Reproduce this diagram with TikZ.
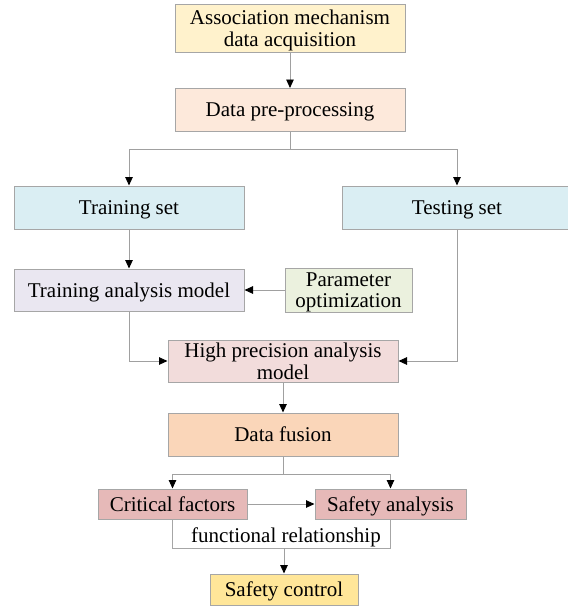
\documentclass[tikz,border=0pt]{standalone}
\usepackage{fontspec}
\setmainfont{Liberation Serif}
\usetikzlibrary{arrows.meta}

\definecolor{assocC}{HTML}{FFF2CC}
\definecolor{prepC}{HTML}{FDE9DB}
\definecolor{setC}{HTML}{DAEEF3}
\definecolor{tamC}{HTML}{EAE7F1}
\definecolor{paramC}{HTML}{EBF1DE}
\definecolor{hpamC}{HTML}{F2DCDB}
\definecolor{fusionC}{HTML}{FAD6B9}
\definecolor{critC}{HTML}{E6B9B8}
\definecolor{safecC}{HTML}{FFE699}
\definecolor{edgeC}{HTML}{A6A6A6}
\definecolor{lineC}{HTML}{A0A0A0}

\tikzset{
  box/.style={draw=edgeC, line width=1pt, rectangle, inner sep=0pt,
    align=center, text depth=0pt, font=\fontsize{21}{21.5}\selectfont},
  link/.style={draw=lineC, line width=0.9pt,
    -{Triangle[width=7.5pt,length=8.5pt,fill=black,color=black]}},
  plain/.style={draw=lineC, line width=0.9pt},
}

\begin{document}
\begin{tikzpicture}[x=1pt,y=-1pt]
\useasboundingbox (0,0) rectangle (568,606);

% main chain of processing steps
\node[box, fill=assocC, minimum width=230pt, minimum height=48pt] (assoc) at (290,28)
  {Association mechanism\\data acquisition};
\node[box, fill=prepC, minimum width=230pt, minimum height=43pt] (prep) at (290,110)
  {Data pre-processing};
\node[box, fill=setC, minimum width=230pt, minimum height=43pt] (train) at (129,207.5)
  {Training set};
\node[box, fill=setC, minimum width=230pt, minimum height=43pt] (test) at (457,207.5)
  {Testing set};
\node[box, fill=tamC, minimum width=230pt, minimum height=42pt] (tam) at (129,290)
  {Training analysis model};
\node[box, fill=paramC, minimum width=127pt, minimum height=44pt] (param) at (348.5,290)
  {Parameter\\optimization};
\node[box, fill=hpamC, minimum width=230pt, minimum height=42pt] (hpam) at (283,361)
  {High precision analysis\\model};
\node[box, fill=fusionC, minimum width=230pt, minimum height=43pt] (fusion) at (283,434.5)
  {Data fusion};

% functional relationship frame (open at the top, behind the two boxes)
\coordinate (fl) at (172.5,519);
\coordinate (fr) at (390.5,519);
\coordinate (fbl) at (172.5,548);
\coordinate (fbr) at (390.5,548);
\draw[draw=edgeC, line width=1pt] (fl) -- (fbl) -- (fbr) -- (fr);
\node[font=\fontsize{21}{21.5}\selectfont, inner sep=0pt, text depth=0pt] (func) at (286,535.5)
  {functional relationship};
\coordinate (funcbot) at (284,548);

\node[box, fill=critC, minimum width=149pt, minimum height=30pt] (crit) at (172.5,504)
  {Critical factors};
\node[box, fill=critC, minimum width=151pt, minimum height=30pt] (safa) at (390.5,504)
  {Safety analysis};
\node[box, fill=safecC, minimum width=148pt, minimum height=31pt] (safec) at (284,589.5)
  {Safety control};

% connectors
\draw[link] (assoc.south) -- (prep.north);
\coordinate (split1) at (290,149);
\draw[plain] (prep.south) -- (split1);
\draw[link] (split1) -| (train.north);
\draw[link] (split1) -| (test.north);
\draw[link] (train.south) -- (tam.north);
\draw[link] (param.west) -- (tam.east);
\draw[link] (tam.south) |- (hpam.west);
\draw[link] (test.south) |- (hpam.east);
\draw[link] (hpam.south) -- (fusion.north);
\coordinate (split2) at (283,474);
\draw[plain] (fusion.south) -- (split2);
\draw[link] (split2) -| (crit.north);
\draw[link] (split2) -| (safa.north);
\draw[link] (crit.east) -- (safa.west);
\draw[link] (funcbot) -- (safec.north);
\end{tikzpicture}
\end{document}
